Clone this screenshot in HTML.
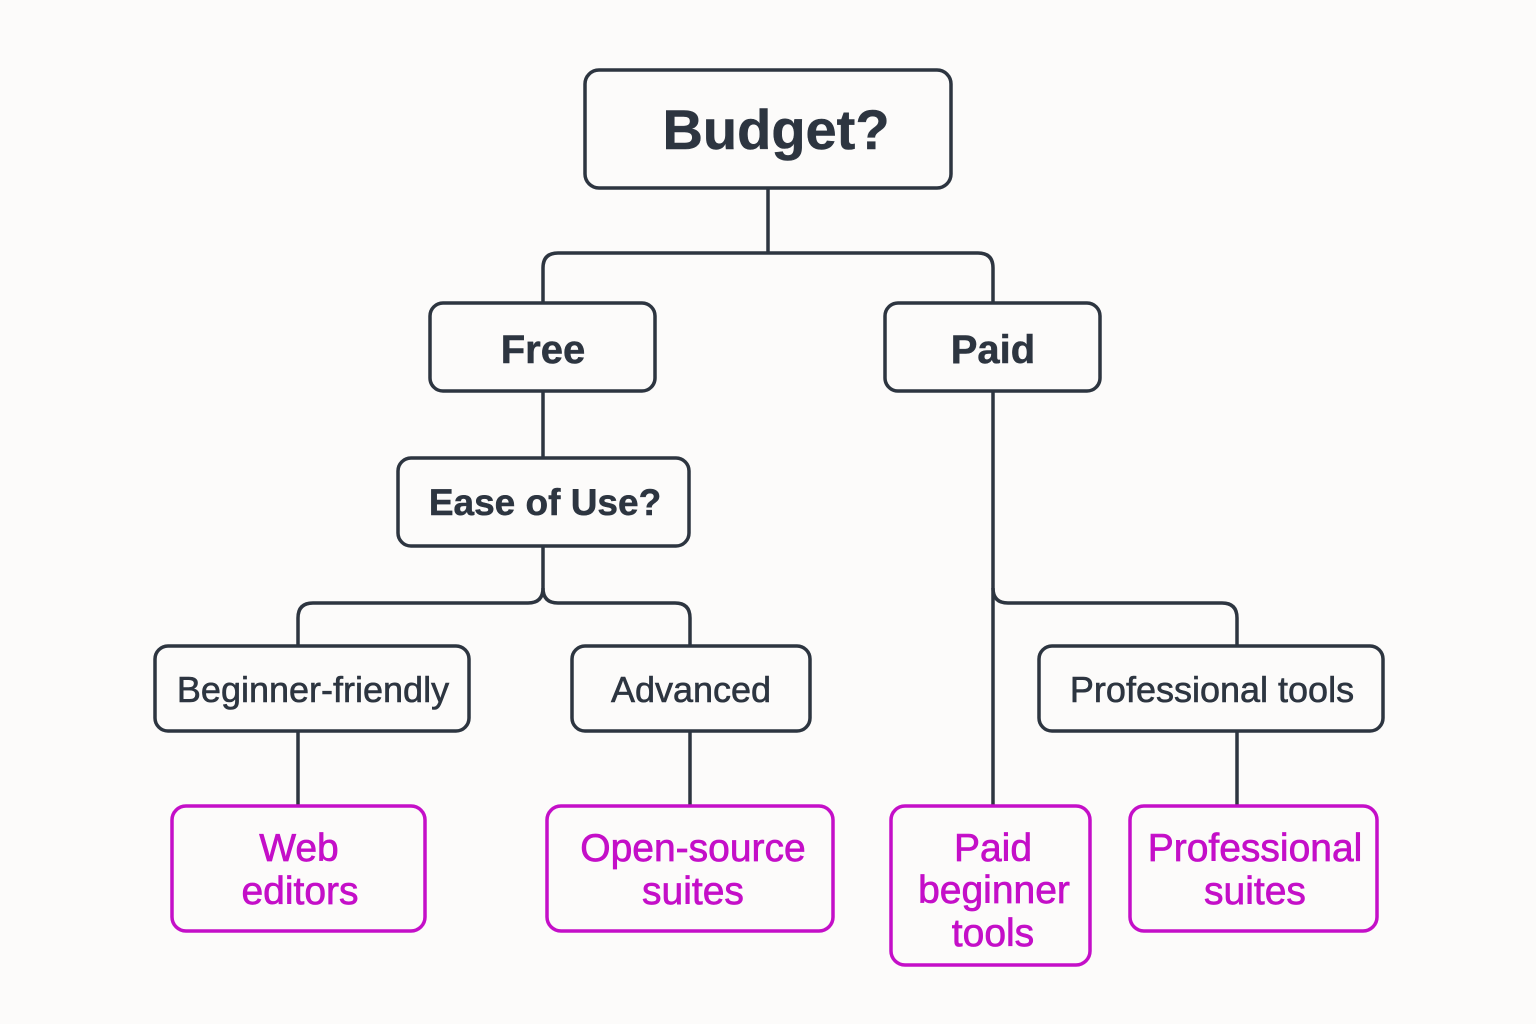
<!DOCTYPE html>
<html><head><style>
html,body{margin:0;padding:0;background:#fcfbfa;}
svg{display:block;}
text{font-family:"Liberation Sans",sans-serif;text-anchor:middle;}
</style></head><body>
<svg width="1536" height="1024" viewBox="0 0 1536 1024">
<rect width="1536" height="1024" fill="#fcfbfa"/>
<g fill="none" stroke="#2d3540" stroke-width="3.5">
<path d="M768 188 V253"/>
<path d="M543 303 V268 Q543 253 558 253 H978 Q993 253 993 268 V303"/>
<path d="M543 391 V458"/>
<path d="M543 546 V588 Q543 603 528 603 H313 Q298 603 298 618 V646"/>
<path d="M543 588 Q543 603 558 603 H675 Q690 603 690 618 V646"/>
<path d="M993 391 V806"/>
<path d="M993 588 Q993 603 1008 603 H1222 Q1237 603 1237 618 V646"/>
<path d="M298 731 V806 M690 731 V806 M1237 731 V806"/>
<rect x="585" y="70" width="366" height="118" rx="14" fill="#fcfbfa"/>
<rect x="430" y="303" width="225" height="88" rx="13" fill="#fcfbfa"/>
<rect x="885" y="303" width="215" height="88" rx="13" fill="#fcfbfa"/>
<rect x="398" y="458" width="291" height="88" rx="13" fill="#fcfbfa"/>
<rect x="155" y="646" width="314" height="85" rx="13" fill="#fcfbfa"/>
<rect x="572" y="646" width="238" height="85" rx="13" fill="#fcfbfa"/>
<rect x="1039" y="646" width="344" height="85" rx="13" fill="#fcfbfa"/>
</g>
<g fill="#c40fc8" stroke="none"></g>
<g fill="#fcfbfa" stroke="#c40fc8" stroke-width="3.5">
<rect x="172" y="806" width="253" height="125" rx="14"/>
<rect x="547" y="806" width="286" height="125" rx="14"/>
<rect x="891" y="806" width="199" height="159" rx="14"/>
<rect x="1130" y="806" width="247" height="125" rx="14"/>
</g>
<g fill="#2d3540" stroke="#2d3540" stroke-width="0.5">
<text x="776" y="149" font-size="56" font-weight="bold">Budget?</text>
<text x="543" y="363" font-size="40" font-weight="bold">Free</text>
<text x="993" y="363" font-size="40" font-weight="bold">Paid</text>
<text x="545" y="515" font-size="37" font-weight="bold">Ease of Use?</text>
</g>
<g fill="#2d3540" stroke="#2d3540" stroke-width="0.6" font-size="36">
<text x="313" y="702">Beginner-friendly</text>
<text x="691" y="702">Advanced</text>
<text x="1212" y="702">Professional tools</text>
</g>
<g fill="#c40fc8" stroke="#c40fc8" stroke-width="0.7" font-size="39">
<text x="299" y="861">Web</text><text x="300" y="904">editors</text>
<text x="693" y="861">Open-source</text><text x="693" y="904">suites</text>
<text x="993" y="861">Paid</text><text x="994" y="903">beginner</text><text x="993" y="946">tools</text>
<text x="1255" y="861">Professional</text><text x="1255" y="904">suites</text>
</g>
</svg>
</body></html>
